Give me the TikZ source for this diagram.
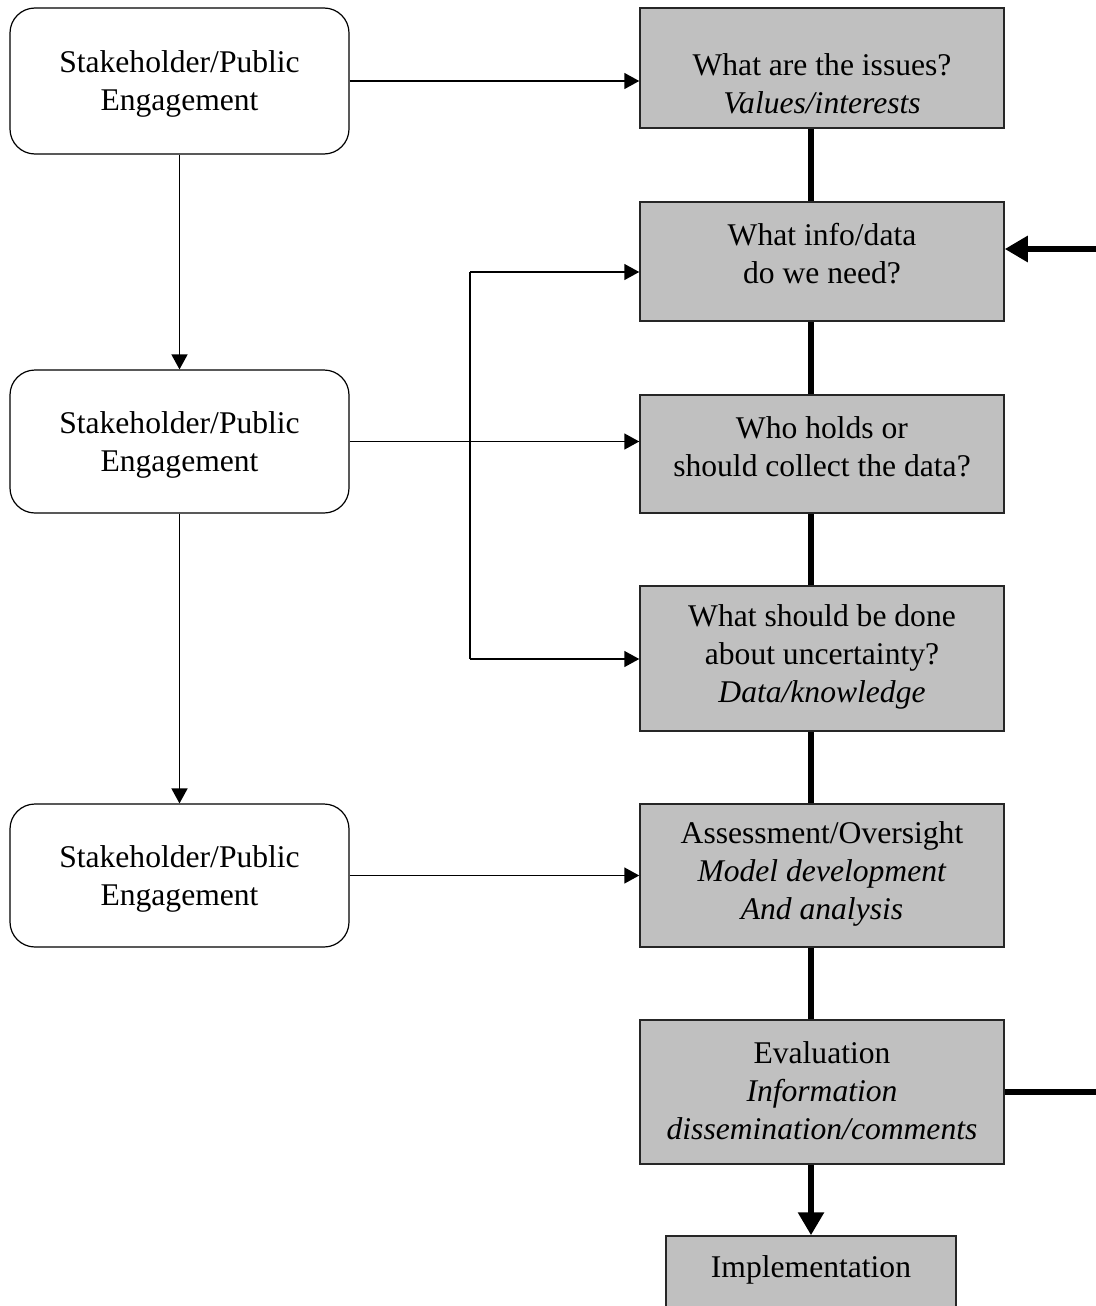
\documentclass[tikz,border=0pt]{standalone}
\usepackage{fontspec}
\setmainfont{Liberation Serif}
\usetikzlibrary{arrows.meta}
\definecolor{boxgray}{HTML}{C0C0C0}
\newcommand\diagfont{\fontsize{15.8}{19}\selectfont}
\tikzset{
  gbox/.style={draw=black!85, fill=boxgray, line width=0.75pt, minimum width=182pt, inner sep=0pt},
  sbox/.style={draw=black, rounded corners=12.5pt, line width=0.6pt, minimum width=169.5pt, inner sep=0pt},
  txt/.style={align=center, font=\diagfont, inner sep=0pt},
  thinarrow/.style={line width=0.8pt, -{Triangle[length=7.5pt,width=8pt]}},
  thinline/.style={line width=0.8pt},
  thickline/.style={line width=3pt},
  bigarrow/.style={line width=3pt, -{Triangle[length=11.5pt,width=12.5pt]}}
}
\begin{document}
\begin{tikzpicture}[x=0.5pt,y=-0.5pt]
\useasboundingbox (0,0) rectangle (1096,1306);
\clip (0,0) rectangle (1096,1306);
% left boxes
\node[sbox, minimum height=73pt] (L1) at (179.5,81) {};
\node[txt] (tL1) at (179.5,84) {Stakeholder/Public\\Engagement};
\node[sbox, minimum height=71.5pt] (L2) at (179.5,441.5) {};
\node[txt] (tL2) at (179.5,445) {Stakeholder/Public\\Engagement};
\node[sbox, minimum height=71.5pt] (L3) at (179.5,875.5) {};
\node[txt] (tL3) at (179.5,879) {Stakeholder/Public\\Engagement};
% gray boxes
\node[gbox, minimum height=60pt] (A) at (822,68) {};
\node[txt] (tA) at (822,84) {What are the issues?\\\textit{Values/interests}};
\node[gbox, minimum height=59.5pt] (B) at (822,261.5) {};
\node[txt] (tB) at (822,254) {What info/data\\do we need?};
\node[gbox, minimum height=59pt] (C) at (822,454) {};
\node[txt] (tC) at (822,447) {Who holds or\\should collect the data?};
\node[gbox, minimum height=72.5pt] (D) at (822,658.5) {};
\node[txt] (tD) at (822,657) {What should be done\\about uncertainty?\\\textit{Data/knowledge}};
\node[gbox, minimum height=71.5pt] (E) at (822,875.5) {};
\node[txt] (tE) at (822,874) {Assessment/Oversight\\\textit{Model development}\\\textit{And analysis}};
\node[gbox, minimum height=72pt] (F) at (822,1092) {};
\node[txt] (tF) at (822,1091) {Evaluation\\\textit{Information}\\\textit{dissemination/comments}};
\node[gbox, minimum width=145pt, minimum height=50pt] (I) at (811,1286) {};
\node[txt] (tI) at (811,1270) {Implementation};
% thick chain
\draw[thickline] (A.south -| I) -- (B.north -| I);
\draw[thickline] (B.south -| I) -- (C.north -| I);
\draw[thickline] (C.south -| I) -- (D.north -| I);
\draw[thickline] (D.south -| I) -- (E.north -| I);
\draw[thickline] (E.south -| I) -- (F.north -| I);
\draw[bigarrow] (F.south -| I) -- (I.north);
\coordinate (rB) at (1096,249);
\draw[bigarrow] (rB) -- (rB -| B.east);
\coordinate (rF) at (1100,1092);
\draw[thickline] (F.east) -- (F.east -| rF);
% thin connectors
\draw[thinarrow] (L1.east) -- (L1.east -| A.west);
\draw[thinarrow] (L2.east) -- (L2.east -| C.west);
\draw[thinarrow] (L3.east) -- (L3.east -| E.west);
\draw[thinarrow] (L1.south) -- (L2.north);
\draw[thinarrow] (L2.south) -- (L3.north);
\coordinate (bT) at (470,272);
\coordinate (bB) at (470,659);
\draw[thinline] (bT) -- (bB);
\draw[thinarrow] (bT) -- (bT -| B.west);
\draw[thinarrow] (bB) -- (bB -| D.west);
\end{tikzpicture}
\end{document}
